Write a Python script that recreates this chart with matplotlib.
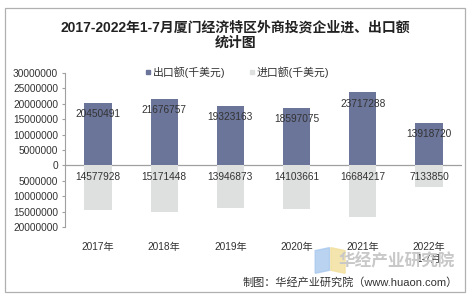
import numpy as np
import matplotlib
matplotlib.use("Agg")
import matplotlib.pyplot as plt
from matplotlib.lines import Line2D
from matplotlib.patches import Rectangle, Polygon
from matplotlib.ticker import FuncFormatter

plt.rcParams["font.family"] = ["Liberation Sans", "Noto Sans CJK SC", "DejaVu Sans"]

years = ["2017年", "2018年", "2019年", "2020年", "2021年", "2022年\n1-7月"]
exports = [20450491, 21676757, 19323163, 18597075, 23717288, 13918720]
imports = [14577928, 15171448, 13946873, 14103661, 16684217, 7133850]

EXPORT_COLOR = "#6b7499"
IMPORT_COLOR = "#dedfdf"
TEXT_COLOR = "#333333"

fig = plt.figure(figsize=(4.74, 3.02), dpi=100)
ax = fig.add_axes([0.137, 0.248, 0.838, 0.51])

x = np.arange(len(years))
width = 0.41

ax.bar(x, exports, width, color=EXPORT_COLOR, zorder=2)
ax.bar(x, [-v for v in imports], width, color=IMPORT_COLOR, zorder=2)

for xi, v in zip(x, exports):
    ax.annotate(str(v), (xi, v), xytext=(0, -8), textcoords="offset points",
                ha="center", va="center", fontsize=7.3, color=TEXT_COLOR, zorder=3)
for xi, v in zip(x, imports):
    ax.annotate(str(v), (xi, 0), xytext=(0, -8), textcoords="offset points",
                ha="center", va="center", fontsize=7.3, color=TEXT_COLOR, zorder=3)

ax.set_xlim(-0.5, len(years) - 0.5)
ax.set_ylim(-20000000, 30000000)
ax.set_yticks(np.arange(-20000000, 30000001, 5000000))
ax.yaxis.set_major_formatter(FuncFormatter(lambda v, p: f"{abs(int(v))}"))
ax.axhline(0, color="#a0a0a0", lw=0.9, zorder=1)

ax.set_xticks(x)
ax.set_xticklabels(years)
ax.tick_params(axis="x", length=0, pad=11, labelsize=7.3, labelcolor=TEXT_COLOR)
ax.tick_params(axis="y", length=2.5, pad=2.5, labelsize=7.3, labelcolor=TEXT_COLOR,
               color="#a0a0a0", width=0.8)

for side in ["top", "right", "bottom"]:
    ax.spines[side].set_visible(False)
ax.spines["left"].set_color("#a0a0a0")
ax.spines["left"].set_linewidth(0.8)

fig.text(0.496, 0.91, "2017-2022年1-7月厦门经济特区外商投资企业进、出口额",
         ha="center", va="center", fontsize=10, fontweight="bold", color="#222222")
fig.text(0.496, 0.857, "统计图", ha="center", va="center", fontsize=10,
         fontweight="bold", color="#222222")

handles = [
    Line2D([], [], marker="s", ls="", color=EXPORT_COLOR, markersize=3.5),
    Line2D([], [], marker="s", ls="", color=IMPORT_COLOR, markersize=3.5),
]
fig.legend(handles, ["出口额(千美元)", "进口额(千美元)"], loc="center",
           bbox_to_anchor=(0.5, 0.762), ncol=2, frameon=False, fontsize=7.8,
           handlelength=0.6, handletextpad=0.1, columnspacing=2.2,
           labelcolor=TEXT_COLOR)

# watermark
fig.patches.append(Polygon([[0.665, 0.17], [0.695, 0.18], [0.695, 0.105], [0.665, 0.095]],
                           closed=True, transform=fig.transFigure,
                           color="#a8c8ee", alpha=0.8, zorder=0))
fig.patches.append(Polygon([[0.698, 0.18], [0.728, 0.17], [0.728, 0.095], [0.698, 0.105]],
                           closed=True, transform=fig.transFigure,
                           color="#f2df9a", alpha=0.8, zorder=0))
fig.text(0.96, 0.135, "华经产业研究院", ha="right", va="center", fontsize=12,
         color="#c8c8c8", fontweight="bold", zorder=0)

fig.text(0.966, 0.066, "制图：华经产业研究院（www.huaon.com）", ha="right", va="center",
         fontsize=8, color=TEXT_COLOR)

fig.patches.append(Rectangle((5 / 474, 1 - 292 / 302), 460 / 474, 284 / 302,
                             transform=fig.transFigure, fill=False,
                             edgecolor="#b0b0b0", lw=0.9))

fig.savefig("out.png", dpi=100)
